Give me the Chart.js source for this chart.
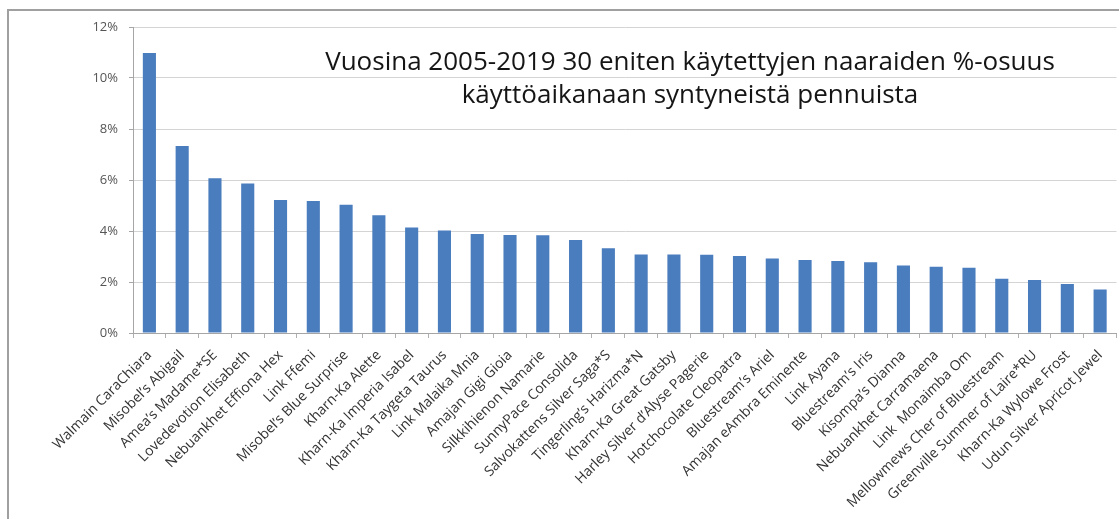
<!DOCTYPE html>
<html>
<head>
<meta charset="utf-8">
<script src="https://cdn.jsdelivr.net/npm/chart.js@4.4.1/dist/chart.umd.min.js"></script>
<style>
  html, body { margin: 0; padding: 0; background: #fff; overflow: hidden; }
  #wrap { position: absolute; left: 0; top: 0; width: 1121px; height: 519px; }
</style>
</head>
<body>
<div id="wrap"><canvas id="chart"></canvas></div>
<script>
// Share (%) of puppies born during each female's breeding years, 2005–2019
const females = [
  "Walmain CaraChiara",
  "Misobel’s Abigail",
  "Amea’s Madame*SE",
  "Lovedevotion Elisabeth",
  "Nebuankhet Effiona Hex",
  "Link Ffemi",
  "Misobel’s Blue Surprise",
  "Kharn-Ka Alette",
  "Kharn-Ka Imperia Isabel",
  "Kharn-Ka Taygeta Taurus",
  "Link Malaika Mnia",
  "Amajan Gigi Gioia",
  "Silkkihienon Namarie",
  "SunnyPace Consolida",
  "Salvokattens Silver Saga*S",
  "Tingerling’s Harizma*N",
  "Kharn-Ka Great Gatsby",
  "Harley Silver d’Alyse Pagerie",
  "Hotchocolate Cleopatra",
  "Bluestream’s Ariel",
  "Amajan eAmbra Eminente",
  "Link Ayana",
  "Bluestream’s Iris",
  "Kisompa’s Dianna",
  "Nebuankhet Carramaena",
  "Link  Monaimba Om",
  "Mellowmews Cher of Bluestream",
  "Greenville Summer of Laire*RU",
  "Kharn-Ka Wylowe Frost",
  "Udun Silver Apricot Jewel"
];

const sharePct = [
  10.98, 7.33, 6.07, 5.86, 5.22, 5.18, 5.03, 4.62, 4.14, 4.02,
  3.88, 3.84, 3.83, 3.65, 3.32, 3.08, 3.08, 3.07, 3.02, 2.92,
  2.86, 2.82, 2.77, 2.65, 2.60, 2.56, 2.13, 2.08, 1.92, 1.71
];

const yTicks = [0, 2, 4, 6, 8, 10, 12];

const titleLines = [
  "Vuosina 2005-2019 30 eniten käytettyjen naaraiden %-osuus",
  "käyttöaikanaan syntyneistä pennuista"
];

// Outer chart frame (left and top edges)
const chartFrame = {
  id: 'chartFrame',
  beforeDraw(chart) {
    const { ctx, width, height } = chart;
    ctx.save();
    ctx.strokeStyle = '#a0a0a0';
    ctx.lineWidth = 2;
    ctx.beginPath();
    ctx.moveTo(8, height);
    ctx.lineTo(8, 10);
    ctx.lineTo(width, 10);
    ctx.stroke();
    ctx.restore();
  }
};

// Two-line heading drawn inside the plot area
const innerTitle = {
  id: 'innerTitle',
  afterDraw(chart) {
    const { ctx, chartArea } = chart;
    ctx.save();
    ctx.fillStyle = '#151515';
    ctx.font = '26px "Open Sans", sans-serif';
    ctx.textAlign = 'center';
    ctx.textBaseline = 'middle';
    const cx = 690;
    ctx.fillText(titleLines[0], cx, chartArea.top + 36);
    ctx.fillText(titleLines[1], cx, chartArea.top + 69);
    ctx.restore();
  }
};

new Chart(document.getElementById('chart'), {
  type: 'bar',
  data: {
    labels: females,
    datasets: [{
      data: sharePct,
      backgroundColor: '#4a7dbe',
      borderWidth: 0,
      categoryPercentage: 1,
      barPercentage: 0.4
    }]
  },
  options: {
    responsive: true,
    maintainAspectRatio: false,
    animation: false,
    layout: { padding: { top: 27, right: 0, left: 0, bottom: 0 } },
    plugins: {
      legend: { display: false },
      tooltip: { enabled: false },
      title: { display: false }
    },
    scales: {
      x: {
        offset: true,
        afterFit(s) { s.height = 186; },
        grid: {
          display: true,
          drawOnChartArea: false,
          drawTicks: true,
          tickLength: 5,
          color: '#b0b0b0',
          offset: true
        },
        border: { display: true, color: '#a6a6a6', width: 1 },
        ticks: {
          autoSkip: false,
          maxRotation: 45,
          minRotation: 45,
          padding: 9,
          color: '#333',
          font: { family: '"Open Sans", sans-serif', size: 14 }
        }
      },
      y: {
        min: 0,
        max: 12,
        afterFit(s) { s.width = 133; },
        afterBuildTicks(s) { s.ticks = yTicks.map(v => ({ value: v })); },
        grid: {
          color: '#d4d4d4',
          lineWidth: 1,
          drawTicks: true,
          tickLength: 4,
          tickColor: '#a6a6a6'
        },
        border: { display: true, color: '#a6a6a6', width: 1 },
        ticks: {
          padding: 11,
          color: '#555',
          font: { family: '"Open Sans", sans-serif', size: 13 },
          callback: v => v + '%'
        }
      }
    }
  },
  plugins: [chartFrame, innerTitle]
});
</script>
</body>
</html>
